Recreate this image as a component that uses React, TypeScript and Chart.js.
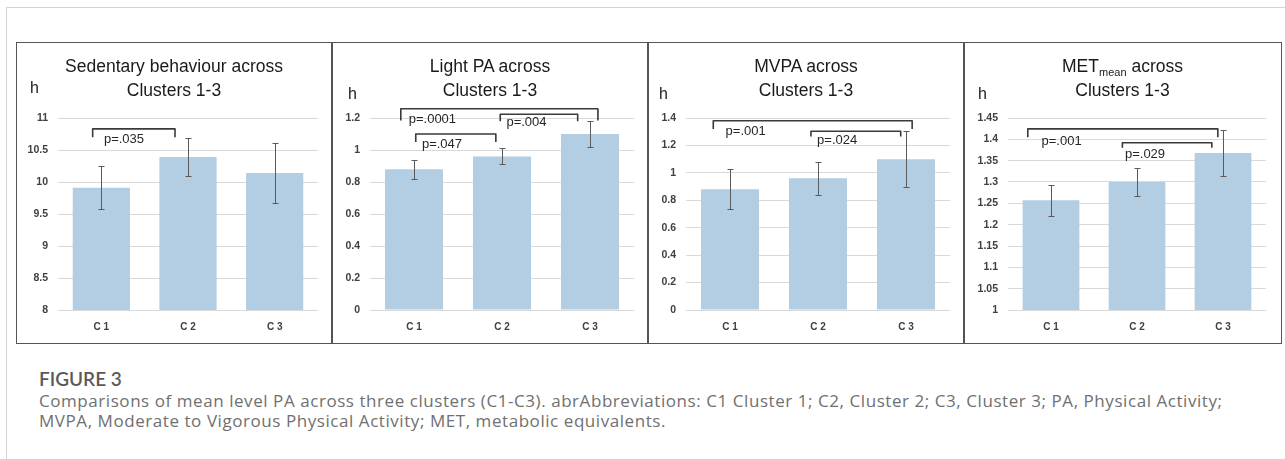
import React, { useEffect, useRef } from 'react';
import { Chart, registerables } from 'chart.js';

Chart.register(...registerables);

// ---------------- data ----------------
const categories = ['C 1', 'C 2', 'C 3'];

const sedentaryMeans = [9.91, 10.39, 10.14];
const sedentaryErrors = [0.335, 0.29, 0.475];
const sedentaryTicks = { min: 8, max: 11, step: 0.5 };

const lightMeans = [0.88, 0.96, 1.1];
const lightErrors = [0.06, 0.05, 0.08];
const lightTicks = { min: 0, max: 1.2, step: 0.2 };

const mvpaMeans = [0.88, 0.96, 1.1];
const mvpaErrors = [0.145, 0.122, 0.205];
const mvpaTicks = { min: 0, max: 1.4, step: 0.2 };

const metMeans = [1.257, 1.3, 1.368];
const metErrors = [0.037, 0.032, 0.053];
const metTicks = { min: 1, max: 1.45, step: 0.05 };

type Bracket = {
  from: number; // category position (index, fractional)
  to: number;
  top: number; // value units
  bottom: number;
  label: string;
  labelX: number;
  labelY: number;
};

const sedentaryBrackets: Bracket[] = [
  { from: -0.1, to: 0.85, top: 10.83, bottom: 10.7, label: 'p=.035', labelX: 0.03, labelY: 10.67 },
];
const lightBrackets: Bracket[] = [
  { from: -0.15, to: 2.09, top: 1.258, bottom: 1.185, label: 'p=.0001', labelX: -0.06, labelY: 1.19 },
  { from: 0.02, to: 0.93, top: 1.1, bottom: 1.05, label: 'p=.047', labelX: 0.09, labelY: 1.035 },
  { from: 0.98, to: 1.86, top: 1.223, bottom: 1.18, label: 'p=.004', labelX: 1.05, labelY: 1.175 },
];
const mvpaBrackets: Bracket[] = [
  { from: -0.19, to: 2.07, top: 1.38, bottom: 1.32, label: 'p=.001', labelX: -0.05, labelY: 1.3 },
  { from: 0.92, to: 1.94, top: 1.303, bottom: 1.266, label: 'p=.024', labelX: 0.99, labelY: 1.237 },
];
const metBrackets: Bracket[] = [
  { from: -0.27, to: 1.94, top: 1.4244, bottom: 1.405, label: 'p=.001', labelX: -0.11, labelY: 1.394 },
  { from: 0.83, to: 1.87, top: 1.392, bottom: 1.38, label: 'p=.029', labelX: 0.86, labelY: 1.364 },
];

const captionHeading = 'FIGURE 3';
const captionLine1 =
  'Comparisons of mean level PA across three clusters (C1-C3). abrAbbreviations: C1 Cluster 1; C2, Cluster 2; C3, Cluster 3; PA, Physical Activity;';
const captionLine2 = 'MVPA, Moderate to Vigorous Physical Activity; MET, metabolic equivalents.';

// ---------------- layout ----------------
const FONT = '"Liberation Sans", Arial, sans-serif';
const FRAME_TOP = 42;
const FRAME_H = 301;

type Panel = {
  key: string;
  left: number;
  width: number;
  yWidth: number;
  rightPad: number;
  hLeft: number;
  hTop: number;
  title1: React.ReactNode;
  title2: string;
  means: number[];
  errors: number[];
  ticks: { min: number; max: number; step: number };
  brackets: Bracket[];
};

const panels: Panel[] = [
  {
    key: 'sed', left: 16, width: 316, yWidth: 42, rightPad: 14, hLeft: 14, hTop: 36,
    title1: 'Sedentary behaviour across', title2: 'Clusters 1-3',
    means: sedentaryMeans, errors: sedentaryErrors, ticks: sedentaryTicks, brackets: sedentaryBrackets,
  },
  {
    key: 'light', left: 332, width: 316, yWidth: 38, rightPad: 14, hLeft: 16, hTop: 42,
    title1: 'Light PA across', title2: 'Clusters 1-3',
    means: lightMeans, errors: lightErrors, ticks: lightTicks, brackets: lightBrackets,
  },
  {
    key: 'mvpa', left: 648, width: 316, yWidth: 38, rightPad: 14, hLeft: 11, hTop: 42,
    title1: 'MVPA across', title2: 'Clusters 1-3',
    means: mvpaMeans, errors: mvpaErrors, ticks: mvpaTicks, brackets: mvpaBrackets,
  },
  {
    key: 'met', left: 964, width: 317, yWidth: 44, rightPad: 15, hLeft: 14, hTop: 42,
    title1: (
      <>
        MET
        <span style={{ fontSize: 11, position: 'relative', top: 4, lineHeight: 0 }}>mean</span> across
      </>
    ),
    title2: 'Clusters 1-3',
    means: metMeans, errors: metErrors, ticks: metTicks, brackets: metBrackets,
  },
];

// ---------------- plugin: error bars + significance brackets ----------------
const annotPlugin = {
  id: 'errAnnot',
  afterDatasetsDraw(chart: any, _args: any, opts: any) {
    const { ctx } = chart;
    const xs = chart.scales.x;
    const ys = chart.scales.y;
    const meta = chart.getDatasetMeta(0);
    const values: number[] = chart.data.datasets[0].data;
    ctx.save();
    // error bars
    ctx.strokeStyle = '#5a5a5a';
    ctx.lineWidth = 1;
    (opts.errors as number[]).forEach((e, i) => {
      const v = values[i];
      const cx = Math.round(meta.data[i].x) + 0.5;
      const yt = Math.round(ys.getPixelForValue(v + e)) + 0.5;
      const yb = Math.round(ys.getPixelForValue(v - e)) + 0.5;
      ctx.beginPath();
      ctx.moveTo(cx, yt);
      ctx.lineTo(cx, yb);
      ctx.moveTo(cx - 3, yt);
      ctx.lineTo(cx + 3, yt);
      ctx.moveTo(cx - 3, yb);
      ctx.lineTo(cx + 3, yb);
      ctx.stroke();
    });
    // brackets
    (opts.brackets as Bracket[]).forEach((b) => {
      const x1 = xs.getPixelForValue(b.from);
      const x2 = xs.getPixelForValue(b.to);
      const yT = ys.getPixelForValue(b.top);
      const yB = ys.getPixelForValue(b.bottom);
      ctx.strokeStyle = '#3a3a3a';
      ctx.lineWidth = 1.6;
      ctx.lineJoin = 'round';
      ctx.beginPath();
      ctx.moveTo(x1, yB);
      ctx.lineTo(x1, yT);
      ctx.lineTo(x2, yT);
      ctx.lineTo(x2, yB);
      ctx.stroke();
      ctx.fillStyle = '#262626';
      ctx.font = `13px ${FONT}`;
      ctx.textAlign = 'left';
      ctx.textBaseline = 'middle';
      ctx.fillText(b.label, xs.getPixelForValue(b.labelX), ys.getPixelForValue(b.labelY));
    });
    ctx.restore();
  },
};

function makeConfig(p: Panel): any {
  return {
    type: 'bar',
    data: {
      labels: categories,
      datasets: [
        {
          data: p.means,
          backgroundColor: '#b3cde3',
          borderWidth: 0,
          barPercentage: 0.66,
          categoryPercentage: 1,
        },
      ],
    },
    plugins: [annotPlugin],
    options: {
      animation: false,
      responsive: false,
      maintainAspectRatio: false,
      layout: { padding: { top: 76, right: p.rightPad, bottom: 0, left: 0 } },
      plugins: {
        legend: { display: false },
        tooltip: { enabled: false },
        title: { display: false },
        errAnnot: { errors: p.errors, brackets: p.brackets },
      },
      scales: {
        x: {
          grid: { display: false, drawTicks: false },
          border: { display: false },
          ticks: { color: '#404040', font: { family: FONT, size: 10, weight: 'bold' }, padding: 11 },
          afterFit: (s: any) => {
            s.height = 33;
          },
        },
        y: {
          min: p.ticks.min,
          max: p.ticks.max,
          grid: { color: '#d9d9d9', lineWidth: 1, drawTicks: false },
          border: { display: false },
          ticks: {
            stepSize: p.ticks.step,
            padding: 10,
            color: '#404040',
            font: { family: FONT, size: 10.5, weight: 'bold' },
            callback: (v: number) => String(Number(Number(v).toFixed(2))),
          },
          afterFit: (s: any) => {
            s.width = p.yWidth;
          },
        },
      },
    },
  };
}

export default function App() {
  const refs = useRef<(HTMLCanvasElement | null)[]>([]);

  useEffect(() => {
    const charts = panels.map((p, i) => new Chart(refs.current[i] as HTMLCanvasElement, makeConfig(p)));
    return () => charts.forEach((c) => c.destroy());
  }, []);

  return (
    <div
      style={{
        position: 'fixed',
        left: 0,
        top: 0,
        width: 1285,
        height: 459,
        overflow: 'hidden',
        background: '#ffffff',
        fontFamily: FONT,
      }}
    >
      {/* outer card */}
      <div
        style={{
          position: 'absolute',
          left: 6,
          top: 7,
          width: 1300,
          height: 500,
          border: '1px solid #d4d4d4',
          boxSizing: 'border-box',
        }}
      />
      {/* figure frame */}
      <div
        style={{
          position: 'absolute',
          left: 16,
          top: FRAME_TOP,
          width: 1266,
          height: FRAME_H + 1,
          border: '1.5px solid #555',
          boxSizing: 'border-box',
        }}
      />
      {panels.slice(1).map((p) => (
        <div
          key={'div-' + p.key}
          style={{ position: 'absolute', left: p.left - 0.75, top: FRAME_TOP, width: 1.5, height: FRAME_H, background: '#555' }}
        />
      ))}
      {panels.map((p, i) => (
        <div
          key={p.key}
          style={{ position: 'absolute', left: p.left, top: FRAME_TOP, width: p.width, height: FRAME_H }}
        >
          <canvas
            ref={(el) => {
              refs.current[i] = el;
            }}
            width={p.width}
            height={FRAME_H}
            style={{ position: 'absolute', left: 0, top: 0, width: p.width, height: FRAME_H }}
          />
          <div
            style={{
              position: 'absolute',
              left: 0,
              top: 13,
              width: p.width,
              textAlign: 'center',
              fontSize: 17.5,
              lineHeight: '23.5px',
              color: '#1a1a1a',
              whiteSpace: 'nowrap',
            }}
          >
            <div style={{ height: 23.5 }}>{p.title1}</div>
            <div style={{ height: 23.5 }}>{p.title2}</div>
          </div>
          <div
            style={{
              position: 'absolute',
              left: p.hLeft,
              top: p.hTop,
              fontSize: 16,
              lineHeight: '20px',
              color: '#1a1a1a',
            }}
          >
            h
          </div>
        </div>
      ))}
      {/* caption */}
      <div
        style={{
          position: 'absolute',
          left: 39,
          top: 368,
          fontFamily: 'Lato, "Open Sans", sans-serif',
          fontSize: 19,
          lineHeight: '22px',
          fontWeight: 600,
          color: '#5a5a5a',
          whiteSpace: 'nowrap',
        }}
      >
        {captionHeading}
      </div>
      <div
        style={{
          position: 'absolute',
          left: 39,
          top: 390.5,
          fontFamily: '"Open Sans", Lato, sans-serif',
          fontSize: 17,
          lineHeight: '20px',
          letterSpacing: '0.56px',
          color: '#707070',
          whiteSpace: 'nowrap',
        }}
      >
        <div>{captionLine1}</div>
        <div>{captionLine2}</div>
      </div>
    </div>
  );
}
